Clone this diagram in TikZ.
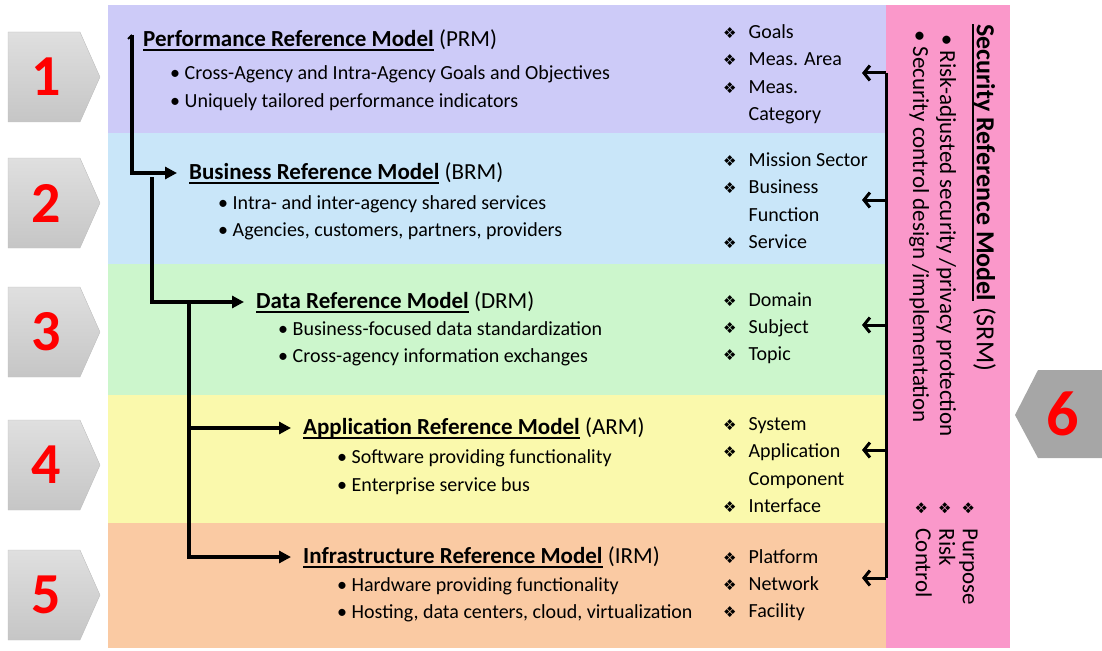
\documentclass[tikz,border=0pt]{standalone}
\usepackage{fontspec}
\setmainfont{Carlito}
\newfontfamily\dejavu{DejaVu Sans}
\usepackage{xcolor}
\usetikzlibrary{arrows.meta}
\definecolor{prmcol}{RGB}{205,203,248}
\definecolor{brmcol}{RGB}{201,230,249}
\definecolor{drmcol}{RGB}{204,246,204}
\definecolor{armcol}{RGB}{250,249,172}
\definecolor{irmcol}{RGB}{250,202,163}
\definecolor{srmcol}{RGB}{250,152,202}
\definecolor{tagcol}{RGB}{166,166,166}
\newsavebox\ulbox
\newcommand\ulbf[1]{\sbox\ulbox{\textbf{#1}}\rlap{\rule[-4.5pt]{\wd\ulbox}{1.5pt}}\usebox\ulbox}
\newcommand\dia{{\fontsize{15}{15}\dejavu ❖}}
\newcommand\mtitle[2]{\ulbf{#1} (#2)}

\begin{document}
\begin{tikzpicture}[x=1pt,y=-1pt,
	title/.style={anchor=west,inner sep=0pt,font=\fontsize{23}{27}\selectfont},
	bullets/.style={anchor=west,inner sep=0pt,align=left,font=\fontsize{20}{27.5}\selectfont},
	items/.style={anchor=west,inner sep=0pt,font=\fontsize{20}{27.3}\selectfont},
	vtext/.style={anchor=west,inner sep=0pt,rotate=-90,font=\fontsize{23}{23.5}\selectfont},
	tag/.style={draw=gray!50,top color=gray!25,middle color=gray!3,bottom color=gray!45},
	num/.style={text=red,font=\fontsize{58}{58}\selectfont\bfseries},
	tree/.style={line width=3.5pt,-{Triangle[length=12pt,width=12pt]}},
	back/.style={line width=3pt,-{Straight Barb[length=6pt,width=15pt]}},
	]
	\useasboundingbox (0,0) rectangle (1102,650);
	\fill[prmcol] (108,5) rectangle (886,133);
	\fill[brmcol] (108,133) rectangle (886,264);
	\fill[drmcol] (108,264) rectangle (886,395);
	\fill[armcol] (108,395) rectangle (886,523);
	\fill[irmcol] (108,523) rectangle (886,648);
	\fill[srmcol] (886,5) rectangle (1010,648);

	\foreach \y [count=\i] in {77,203,332,465,595} {
		\draw[tag] (8,\y-45) -- (80,\y-45) -- (100,\y) -- (80,\y+45) -- (8,\y+45) -- cycle;
		\node[num] (n\i) at (46,\y) {\i};
	}
	\fill[tagcol] (1102,370) -- (1038,370) -- (1015,415) -- (1038,458) -- (1102,458) -- cycle;
	\node[num,font=\fontsize{64}{64}\selectfont\bfseries] (n6) at (1063,414) {6};

	\node[title] (prm) at (143,40) {\mtitle{Performance Reference Model}{PRM}};
	\node[bullets] (prmb) at (170,88) {\textbullet{} Cross-Agency and Intra-Agency Goals and Objectives\\ \textbullet{} Uniquely tailored performance indicators};
	\node[title] (brm) at (189,173) {\mtitle{Business Reference Model}{BRM}};
	\node[bullets] (brmb) at (218,218) {\textbullet{} Intra- and inter-agency shared services\\ \textbullet{} Agencies, customers, partners, providers};
	\node[title] (drm) at (256,302) {\mtitle{Data Reference Model}{DRM}};
	\node[bullets] (drmb) at (278,344) {\textbullet{} Business-focused data standardization\\ \textbullet{} Cross-agency information exchanges};
	\node[title] (arm) at (303,428) {\mtitle{Application Reference Model}{ARM}};
	\node[bullets] (armb) at (337,472) {\textbullet{} Software providing functionality\\ \textbullet{} Enterprise service bus};
	\node[title] (irm) at (303,557) {\mtitle{Infrastructure Reference Model}{IRM}};
	\node[bullets] (irmb) at (337,600) {\textbullet{} Hardware providing functionality\\ \textbullet{} Hosting, data centers, cloud, virtualization};

	\node[items] (prml) at (723,74) {\begin{tabular}{@{}l@{\hspace{12pt}}l@{}}\dia & Goals\\ \dia & Meas. Area\\ \dia & Meas.\\ & Category\end{tabular}};
	\node[items] (brml) at (723,202) {\begin{tabular}{@{}l@{\hspace{12pt}}l@{}}\dia & Mission Sector\\ \dia & Business\\ & Function\\ \dia & Service\end{tabular}};
	\node[items] (drml) at (723,328) {\begin{tabular}{@{}l@{\hspace{12pt}}l@{}}\dia & Domain\\ \dia & Subject\\ \dia & Topic\end{tabular}};
	\node[items] (arml) at (723,466) {\begin{tabular}{@{}l@{\hspace{12pt}}l@{}}\dia & System\\ \dia & Application\\ & Component\\ \dia & Interface\end{tabular}};
	\node[items] (irml) at (723,585) {\begin{tabular}{@{}l@{\hspace{12pt}}l@{}}\dia & Platform\\ \dia & Network\\ \dia & Facility\end{tabular}};

	\node[vtext,font=\fontsize{26}{30}\selectfont] (srm) at (984,24) {\mtitle{Security Reference Model}{SRM}};
	\node[vtext] (srmb1) at (946,34) {\textbullet{} Risk-adjusted security /privacy protection};
	\node[vtext] (srmb2) at (919,30) {\textbullet{} Security control design /implementation};
	\node[vtext] (srml) at (944,501) {\begin{tabular}{@{}l@{\hspace{14pt}}l@{}}\dia & Purpose\\ \dia & Risk\\ \dia & Control\end{tabular}};

	\coordinate (t1) at (132,35);
	\coordinate (t2) at (152,177);
	\coordinate (t3) at (189,303);
	\draw[line width=2pt] (128,39) -- (t1);
	\draw[tree,shorten >=12pt] (t1) |- (brm.west);
	\draw[tree,shorten >=12pt] (t2) |- (drm.west);
	\draw[tree,shorten >=12pt] (t3) |- (arm.west);
	\draw[tree,shorten >=12pt] (t3) |- (irm.west);

	\coordinate (s1) at (886,73);
	\coordinate (s5) at (886,578);
	\coordinate (tip) at (862,0);
	\draw[line width=3pt] (s1) -- (s5);
	\foreach \y [count=\i] in {73,200,325,450,578} {
		\coordinate (r\i) at (886,\y);
		\draw[back] (r\i) -- (r\i -| tip);
	}
\end{tikzpicture}
\end{document}
